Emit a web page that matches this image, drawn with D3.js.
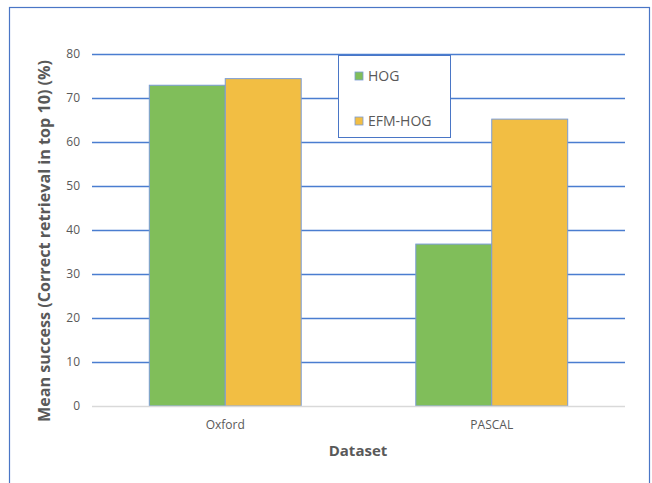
<!DOCTYPE html>
<html>
<head>
<meta charset="utf-8">
<script src="https://cdn.jsdelivr.net/npm/d3@7"></script>
<style>
  html, body { margin: 0; padding: 0; background: #fff; }
  svg { display: block; font-family: "Open Sans", "Noto Sans", sans-serif; }
</style>
</head>
<body>
<div id="chart"></div>
<script>
// Data
const categories = ['Oxford', 'PASCAL'];
const seriesNames = ['HOG', 'EFM-HOG'];
const hogValues = [72.9, 36.8];
const efmHogValues = [74.4, 65.2];
const yTicks = [0, 10, 20, 30, 40, 50, 60, 70, 80];

const COLORS = { 'HOG': '#80BE5A', 'EFM-HOG': '#F2BE43' };

const width = 652, height = 483;
const plot = { left: 92, right: 625, top: 54, bottom: 406 };

const svg = d3.select('#chart').append('svg')
  .attr('width', width)
  .attr('height', height);

// outer frame
svg.append('rect')
  .attr('x', 9.5).attr('y', 7.5)
  .attr('width', 640).attr('height', 490)
  .attr('fill', 'none')
  .attr('stroke', '#4A76C6')
  .attr('stroke-width', 1.2);

const x = d3.scaleBand()
  .domain(categories)
  .range([plot.left, plot.right])
  .paddingInner(0.43)
  .paddingOuter(0.215);

const x1 = d3.scaleBand()
  .domain(seriesNames)
  .range([0, x.bandwidth()]);

const y = d3.scaleLinear()
  .domain([0, 80])
  .range([plot.bottom, plot.top]);

// gridlines
svg.append('g')
  .selectAll('line')
  .data(yTicks.filter(t => t > 0))
  .join('line')
  .attr('x1', plot.left).attr('x2', plot.right)
  .attr('y1', d => Math.round(y(d)) + 0.5)
  .attr('y2', d => Math.round(y(d)) + 0.5)
  .attr('stroke', '#4A7DD0')
  .attr('stroke-width', 1.3);

// bars
const rows = categories.map((c, i) => ({
  cat: c,
  vals: [
    { key: 'HOG', value: hogValues[i] },
    { key: 'EFM-HOG', value: efmHogValues[i] }
  ]
}));

svg.append('g')
  .selectAll('g')
  .data(rows)
  .join('g')
  .attr('transform', d => `translate(${x(d.cat)},0)`)
  .selectAll('rect')
  .data(d => d.vals)
  .join('rect')
  .attr('x', d => x1(d.key))
  .attr('y', d => y(d.value))
  .attr('width', x1.bandwidth())
  .attr('height', d => y(0) - y(d.value))
  .attr('fill', d => COLORS[d.key])
  .attr('stroke', '#7A9CD6')
  .attr('stroke-width', 1);

// baseline
svg.append('line')
  .attr('x1', plot.left).attr('x2', plot.right)
  .attr('y1', y(0) + 0.5).attr('y2', y(0) + 0.5)
  .attr('stroke', '#D9D9D9')
  .attr('stroke-width', 1.5);

// y tick labels
svg.append('g')
  .selectAll('text')
  .data(yTicks)
  .join('text')
  .attr('x', 80)
  .attr('y', d => y(d))
  .attr('dy', '0.35em')
  .attr('text-anchor', 'end')
  .attr('font-size', 12)
  .attr('fill', '#595959')
  .text(d => d);

// x tick labels
svg.append('g')
  .selectAll('text')
  .data(categories)
  .join('text')
  .attr('x', d => x(d) + x.bandwidth() / 2)
  .attr('y', 429)
  .attr('text-anchor', 'middle')
  .attr('font-size', 12)
  .attr('fill', '#595959')
  .text(d => d);

// axis titles
svg.append('text')
  .attr('x', 358).attr('y', 456)
  .attr('text-anchor', 'middle')
  .attr('font-size', 15)
  .attr('font-weight', 'bold')
  .attr('fill', '#595959')
  .text('Dataset');

svg.append('text')
  .attr('transform', 'translate(50,241) rotate(-90)')
  .attr('text-anchor', 'middle')
  .attr('font-size', 16)
  .attr('font-weight', 'bold')
  .attr('fill', '#595959')
  .attr('textLength', 362)
  .attr('lengthAdjust', 'spacingAndGlyphs')
  .text('Mean success (Correct retrieval in top 10) (%)');

// legend
const legend = svg.append('g');
legend.append('rect')
  .attr('x', 338.5).attr('y', 55.5)
  .attr('width', 112).attr('height', 82)
  .attr('fill', '#fff')
  .attr('stroke', '#4A76C6')
  .attr('stroke-width', 1);

const items = legend.selectAll('g')
  .data(seriesNames)
  .join('g')
  .attr('transform', (d, i) => `translate(355,${72 + i * 45})`);

items.append('rect')
  .attr('width', 8).attr('height', 8)
  .attr('fill', d => COLORS[d])
  .attr('stroke', '#7A9CD6')
  .attr('stroke-width', 0.8);

items.append('text')
  .attr('x', 13)
  .attr('y', 4)
  .attr('dy', '0.38em')
  .attr('font-size', 14)
  .attr('fill', '#595959')
  .text(d => d);
</script>
</body>
</html>
